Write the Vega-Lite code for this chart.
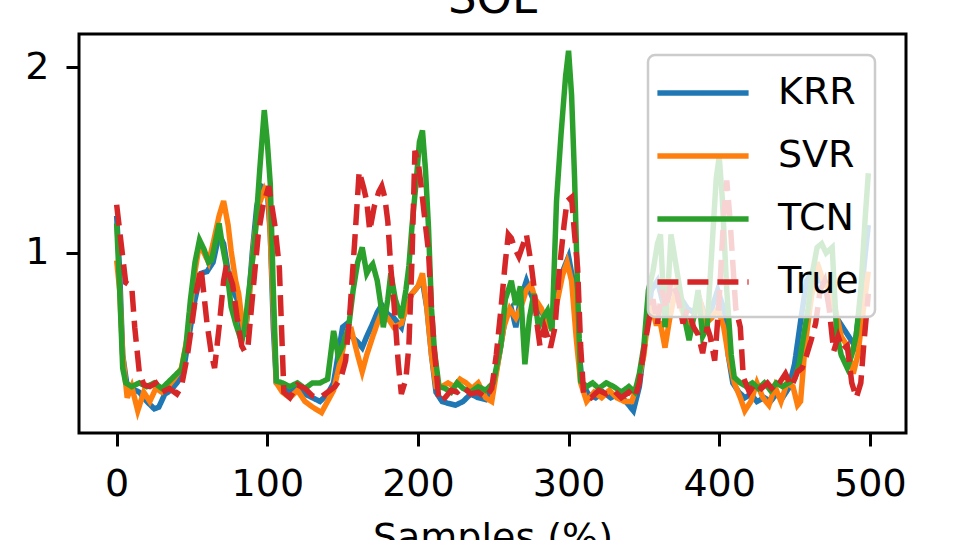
{
  "$schema": "https://vega.github.io/schema/vega-lite/v6.json",
  "width": 827,
  "height": 399,
  "autosize": {"type": "none"},
  "padding": {"left": 79, "top": 34, "right": 54, "bottom": 107},
  "background": "white",
  "title": {"text": "SOL", "fontSize": 45, "font": "DejaVu Sans", "fontWeight": "normal", "color": "black", "offset": 12},
  "config": {
    "view": {"stroke": "black", "strokeWidth": 3},
    "font": "DejaVu Sans",
    "axis": {"domain": false, "grid": false, "tickColor": "black", "tickWidth": 3, "tickSize": 13, "labelFont": "DejaVu Sans", "labelFontSize": 38, "labelColor": "black", "titleFont": "DejaVu Sans", "titleFontSize": 38, "titleFontWeight": "normal", "titleColor": "black"},
    "legend": {"orient": "none", "legendX": 569, "legendY": 21, "padding": 16, "fillColor": "rgba(255,255,255,0.8)", "strokeColor": "#cccccc", "strokeWidth": 2.5, "cornerRadius": 7, "symbolType": "M-2.4,0L2.4,0", "symbolSize": 1444, "symbolStrokeWidth": 5.5, "symbolOffset": 17, "labelFont": "DejaVu Sans", "labelFontSize": 38, "labelColor": "black", "labelOffset": 53, "rowPadding": 22, "title": null}
  },
  "data": {"values": [
    {"m":"KRR","s":0,"v":1.2},{"m":"KRR","s":2,"v":0.9},{"m":"KRR","s":4,"v":0.45},{"m":"KRR","s":7,"v":0.28},{"m":"KRR","s":10,"v":0.27},{"m":"KRR","s":15,"v":0.25},{"m":"KRR","s":20,"v":0.2},{"m":"KRR","s":25,"v":0.16},{"m":"KRR","s":28,"v":0.17},{"m":"KRR","s":32,"v":0.24},{"m":"KRR","s":36,"v":0.26},{"m":"KRR","s":40,"v":0.3},{"m":"KRR","s":44,"v":0.35},{"m":"KRR","s":48,"v":0.55},{"m":"KRR","s":52,"v":0.75},{"m":"KRR","s":56,"v":0.89},{"m":"KRR","s":60,"v":0.9},{"m":"KRR","s":64,"v":0.95},{"m":"KRR","s":68,"v":1.1},{"m":"KRR","s":71,"v":1.05},{"m":"KRR","s":74,"v":0.9},{"m":"KRR","s":77,"v":0.8},{"m":"KRR","s":80,"v":0.75},{"m":"KRR","s":83,"v":0.6},{"m":"KRR","s":85,"v":0.55},{"m":"KRR","s":87,"v":0.68},{"m":"KRR","s":90,"v":1.0},{"m":"KRR","s":93,"v":1.25},{"m":"KRR","s":96,"v":1.36},{"m":"KRR","s":100,"v":1.34},{"m":"KRR","s":102,"v":1.1},{"m":"KRR","s":104,"v":0.6},{"m":"KRR","s":106,"v":0.3},{"m":"KRR","s":110,"v":0.27},{"m":"KRR","s":115,"v":0.25},{"m":"KRR","s":120,"v":0.28},{"m":"KRR","s":125,"v":0.24},{"m":"KRR","s":130,"v":0.22},{"m":"KRR","s":135,"v":0.2},{"m":"KRR","s":140,"v":0.24},{"m":"KRR","s":144,"v":0.3},{"m":"KRR","s":147,"v":0.45},{"m":"KRR","s":150,"v":0.6},{"m":"KRR","s":153,"v":0.62},{"m":"KRR","s":156,"v":0.55},{"m":"KRR","s":160,"v":0.52},{"m":"KRR","s":163,"v":0.49},{"m":"KRR","s":166,"v":0.55},{"m":"KRR","s":170,"v":0.62},{"m":"KRR","s":173,"v":0.68},{"m":"KRR","s":176,"v":0.72},{"m":"KRR","s":180,"v":0.67},{"m":"KRR","s":184,"v":0.65},{"m":"KRR","s":189,"v":0.6},{"m":"KRR","s":192,"v":0.72},{"m":"KRR","s":196,"v":0.78},{"m":"KRR","s":200,"v":0.82},{"m":"KRR","s":203,"v":0.85},{"m":"KRR","s":206,"v":0.7},{"m":"KRR","s":209,"v":0.45},{"m":"KRR","s":212,"v":0.25},{"m":"KRR","s":216,"v":0.2},{"m":"KRR","s":220,"v":0.19},{"m":"KRR","s":225,"v":0.18},{"m":"KRR","s":230,"v":0.2},{"m":"KRR","s":235,"v":0.24},{"m":"KRR","s":240,"v":0.22},{"m":"KRR","s":245,"v":0.21},{"m":"KRR","s":250,"v":0.28},{"m":"KRR","s":254,"v":0.45},{"m":"KRR","s":258,"v":0.65},{"m":"KRR","s":262,"v":0.7},{"m":"KRR","s":265,"v":0.6},{"m":"KRR","s":268,"v":0.75},{"m":"KRR","s":272,"v":0.85},{"m":"KRR","s":275,"v":0.78},{"m":"KRR","s":278,"v":0.72},{"m":"KRR","s":282,"v":0.68},{"m":"KRR","s":285,"v":0.65},{"m":"KRR","s":288,"v":0.62},{"m":"KRR","s":292,"v":0.75},{"m":"KRR","s":296,"v":0.9},{"m":"KRR","s":300,"v":0.98},{"m":"KRR","s":303,"v":0.85},{"m":"KRR","s":306,"v":0.55},{"m":"KRR","s":309,"v":0.3},{"m":"KRR","s":313,"v":0.24},{"m":"KRR","s":318,"v":0.22},{"m":"KRR","s":323,"v":0.25},{"m":"KRR","s":328,"v":0.22},{"m":"KRR","s":333,"v":0.24},{"m":"KRR","s":338,"v":0.2},{"m":"KRR","s":343,"v":0.15},{"m":"KRR","s":347,"v":0.28},{"m":"KRR","s":351,"v":0.55},{"m":"KRR","s":355,"v":0.8},{"m":"KRR","s":359,"v":0.85},{"m":"KRR","s":363,"v":0.72},{"m":"KRR","s":367,"v":0.78},{"m":"KRR","s":371,"v":0.8},{"m":"KRR","s":375,"v":0.75},{"m":"KRR","s":379,"v":0.7},{"m":"KRR","s":383,"v":0.68},{"m":"KRR","s":387,"v":0.75},{"m":"KRR","s":391,"v":0.65},{"m":"KRR","s":395,"v":0.7},{"m":"KRR","s":399,"v":0.8},{"m":"KRR","s":403,"v":0.7},{"m":"KRR","s":406,"v":0.45},{"m":"KRR","s":409,"v":0.3},{"m":"KRR","s":413,"v":0.25},{"m":"KRR","s":417,"v":0.22},{"m":"KRR","s":421,"v":0.24},{"m":"KRR","s":425,"v":0.2},{"m":"KRR","s":430,"v":0.22},{"m":"KRR","s":434,"v":0.2},{"m":"KRR","s":438,"v":0.24},{"m":"KRR","s":442,"v":0.22},{"m":"KRR","s":446,"v":0.27},{"m":"KRR","s":450,"v":0.4},{"m":"KRR","s":454,"v":0.63},{"m":"KRR","s":458,"v":0.85},{"m":"KRR","s":462,"v":0.9},{"m":"KRR","s":466,"v":0.85},{"m":"KRR","s":470,"v":0.85},{"m":"KRR","s":474,"v":0.8},{"m":"KRR","s":478,"v":0.65},{"m":"KRR","s":482,"v":0.6},{"m":"KRR","s":486,"v":0.55},{"m":"KRR","s":490,"v":0.5},{"m":"KRR","s":494,"v":0.75},{"m":"KRR","s":497,"v":1.0},{"m":"KRR","s":499,"v":1.15},

    {"m":"SVR","s":0,"v":0.96},{"m":"SVR","s":2,"v":0.8},{"m":"SVR","s":4,"v":0.45},{"m":"SVR","s":7,"v":0.22},{"m":"SVR","s":10,"v":0.28},{"m":"SVR","s":14,"v":0.15},{"m":"SVR","s":18,"v":0.25},{"m":"SVR","s":22,"v":0.2},{"m":"SVR","s":26,"v":0.27},{"m":"SVR","s":30,"v":0.25},{"m":"SVR","s":34,"v":0.28},{"m":"SVR","s":38,"v":0.32},{"m":"SVR","s":43,"v":0.38},{"m":"SVR","s":47,"v":0.55},{"m":"SVR","s":51,"v":0.85},{"m":"SVR","s":55,"v":1.05},{"m":"SVR","s":58,"v":1.0},{"m":"SVR","s":61,"v":0.95},{"m":"SVR","s":64,"v":1.05},{"m":"SVR","s":68,"v":1.2},{"m":"SVR","s":71,"v":1.28},{"m":"SVR","s":74,"v":1.15},{"m":"SVR","s":76,"v":1.01},{"m":"SVR","s":79,"v":0.85},{"m":"SVR","s":81,"v":0.78},{"m":"SVR","s":83,"v":0.65},{"m":"SVR","s":85,"v":0.56},{"m":"SVR","s":88,"v":0.75},{"m":"SVR","s":91,"v":1.05},{"m":"SVR","s":94,"v":1.25},{"m":"SVR","s":98,"v":1.34},{"m":"SVR","s":101,"v":1.28},{"m":"SVR","s":103,"v":0.9},{"m":"SVR","s":106,"v":0.3},{"m":"SVR","s":110,"v":0.25},{"m":"SVR","s":115,"v":0.22},{"m":"SVR","s":120,"v":0.26},{"m":"SVR","s":125,"v":0.2},{"m":"SVR","s":130,"v":0.17},{"m":"SVR","s":136,"v":0.14},{"m":"SVR","s":140,"v":0.2},{"m":"SVR","s":144,"v":0.26},{"m":"SVR","s":148,"v":0.4},{"m":"SVR","s":152,"v":0.55},{"m":"SVR","s":156,"v":0.58},{"m":"SVR","s":160,"v":0.45},{"m":"SVR","s":163,"v":0.36},{"m":"SVR","s":166,"v":0.45},{"m":"SVR","s":170,"v":0.55},{"m":"SVR","s":173,"v":0.62},{"m":"SVR","s":176,"v":0.68},{"m":"SVR","s":180,"v":0.65},{"m":"SVR","s":184,"v":0.6},{"m":"SVR","s":189,"v":0.62},{"m":"SVR","s":192,"v":0.7},{"m":"SVR","s":196,"v":0.78},{"m":"SVR","s":200,"v":0.82},{"m":"SVR","s":203,"v":0.89},{"m":"SVR","s":206,"v":0.7},{"m":"SVR","s":209,"v":0.45},{"m":"SVR","s":212,"v":0.28},{"m":"SVR","s":216,"v":0.28},{"m":"SVR","s":220,"v":0.3},{"m":"SVR","s":224,"v":0.28},{"m":"SVR","s":228,"v":0.32},{"m":"SVR","s":232,"v":0.3},{"m":"SVR","s":236,"v":0.27},{"m":"SVR","s":240,"v":0.3},{"m":"SVR","s":245,"v":0.22},{"m":"SVR","s":249,"v":0.2},{"m":"SVR","s":253,"v":0.4},{"m":"SVR","s":257,"v":0.6},{"m":"SVR","s":261,"v":0.7},{"m":"SVR","s":265,"v":0.65},{"m":"SVR","s":268,"v":0.7},{"m":"SVR","s":272,"v":0.8},{"m":"SVR","s":275,"v":0.83},{"m":"SVR","s":278,"v":0.75},{"m":"SVR","s":282,"v":0.7},{"m":"SVR","s":285,"v":0.63},{"m":"SVR","s":288,"v":0.6},{"m":"SVR","s":292,"v":0.72},{"m":"SVR","s":296,"v":0.88},{"m":"SVR","s":299,"v":0.95},{"m":"SVR","s":302,"v":0.85},{"m":"SVR","s":305,"v":0.55},{"m":"SVR","s":308,"v":0.3},{"m":"SVR","s":312,"v":0.2},{"m":"SVR","s":317,"v":0.25},{"m":"SVR","s":322,"v":0.22},{"m":"SVR","s":327,"v":0.26},{"m":"SVR","s":332,"v":0.22},{"m":"SVR","s":337,"v":0.2},{"m":"SVR","s":342,"v":0.2},{"m":"SVR","s":346,"v":0.3},{"m":"SVR","s":350,"v":0.45},{"m":"SVR","s":354,"v":0.75},{"m":"SVR","s":358,"v":0.62},{"m":"SVR","s":361,"v":0.62},{"m":"SVR","s":364,"v":0.49},{"m":"SVR","s":367,"v":0.64},{"m":"SVR","s":371,"v":0.8},{"m":"SVR","s":375,"v":0.7},{"m":"SVR","s":379,"v":0.6},{"m":"SVR","s":383,"v":0.65},{"m":"SVR","s":387,"v":0.75},{"m":"SVR","s":391,"v":0.62},{"m":"SVR","s":395,"v":0.65},{"m":"SVR","s":399,"v":0.7},{"m":"SVR","s":403,"v":0.6},{"m":"SVR","s":406,"v":0.45},{"m":"SVR","s":410,"v":0.3},{"m":"SVR","s":414,"v":0.22},{"m":"SVR","s":417,"v":0.15},{"m":"SVR","s":421,"v":0.2},{"m":"SVR","s":425,"v":0.3},{"m":"SVR","s":429,"v":0.22},{"m":"SVR","s":433,"v":0.18},{"m":"SVR","s":437,"v":0.28},{"m":"SVR","s":441,"v":0.2},{"m":"SVR","s":445,"v":0.3},{"m":"SVR","s":449,"v":0.28},{"m":"SVR","s":452,"v":0.18},{"m":"SVR","s":454,"v":0.2},{"m":"SVR","s":457,"v":0.5},{"m":"SVR","s":461,"v":0.75},{"m":"SVR","s":465,"v":0.95},{"m":"SVR","s":469,"v":0.85},{"m":"SVR","s":473,"v":0.8},{"m":"SVR","s":477,"v":0.7},{"m":"SVR","s":481,"v":0.55},{"m":"SVR","s":485,"v":0.5},{"m":"SVR","s":489,"v":0.35},{"m":"SVR","s":492,"v":0.45},{"m":"SVR","s":495,"v":0.65},{"m":"SVR","s":499,"v":0.9},

    {"m":"TCN","s":0,"v":1.16},{"m":"TCN","s":2,"v":0.8},{"m":"TCN","s":4,"v":0.38},{"m":"TCN","s":6,"v":0.3},{"m":"TCN","s":10,"v":0.28},{"m":"TCN","s":15,"v":0.3},{"m":"TCN","s":20,"v":0.28},{"m":"TCN","s":25,"v":0.3},{"m":"TCN","s":30,"v":0.27},{"m":"TCN","s":35,"v":0.31},{"m":"TCN","s":40,"v":0.35},{"m":"TCN","s":43,"v":0.37},{"m":"TCN","s":46,"v":0.5},{"m":"TCN","s":49,"v":0.75},{"m":"TCN","s":52,"v":0.95},{"m":"TCN","s":55,"v":1.07},{"m":"TCN","s":58,"v":1.02},{"m":"TCN","s":61,"v":0.95},{"m":"TCN","s":63,"v":0.96},{"m":"TCN","s":66,"v":1.08},{"m":"TCN","s":68,"v":1.16},{"m":"TCN","s":70,"v":1.05},{"m":"TCN","s":73,"v":0.92},{"m":"TCN","s":76,"v":0.71},{"m":"TCN","s":79,"v":0.62},{"m":"TCN","s":83,"v":0.52},{"m":"TCN","s":85,"v":0.6},{"m":"TCN","s":87,"v":0.74},{"m":"TCN","s":90,"v":0.95},{"m":"TCN","s":92,"v":1.1},{"m":"TCN","s":95,"v":1.45},{"m":"TCN","s":98,"v":1.77},{"m":"TCN","s":100,"v":1.6},{"m":"TCN","s":102,"v":1.37},{"m":"TCN","s":104,"v":0.8},{"m":"TCN","s":106,"v":0.31},{"m":"TCN","s":110,"v":0.3},{"m":"TCN","s":115,"v":0.28},{"m":"TCN","s":120,"v":0.3},{"m":"TCN","s":125,"v":0.27},{"m":"TCN","s":130,"v":0.3},{"m":"TCN","s":135,"v":0.3},{"m":"TCN","s":140,"v":0.32},{"m":"TCN","s":144,"v":0.58},{"m":"TCN","s":147,"v":0.45},{"m":"TCN","s":150,"v":0.5},{"m":"TCN","s":154,"v":0.6},{"m":"TCN","s":157,"v":0.8},{"m":"TCN","s":160,"v":0.95},{"m":"TCN","s":163,"v":1.03},{"m":"TCN","s":166,"v":0.89},{"m":"TCN","s":168,"v":0.92},{"m":"TCN","s":170,"v":0.94},{"m":"TCN","s":173,"v":0.85},{"m":"TCN","s":175,"v":0.74},{"m":"TCN","s":177,"v":0.6},{"m":"TCN","s":180,"v":0.75},{"m":"TCN","s":182,"v":0.89},{"m":"TCN","s":185,"v":0.75},{"m":"TCN","s":189,"v":0.65},{"m":"TCN","s":192,"v":0.8},{"m":"TCN","s":194,"v":0.93},{"m":"TCN","s":196,"v":1.14},{"m":"TCN","s":199,"v":1.4},{"m":"TCN","s":201,"v":1.6},{"m":"TCN","s":203,"v":1.66},{"m":"TCN","s":205,"v":1.45},{"m":"TCN","s":207,"v":1.14},{"m":"TCN","s":209,"v":0.7},{"m":"TCN","s":211,"v":0.47},{"m":"TCN","s":214,"v":0.28},{"m":"TCN","s":218,"v":0.27},{"m":"TCN","s":222,"v":0.25},{"m":"TCN","s":226,"v":0.3},{"m":"TCN","s":230,"v":0.27},{"m":"TCN","s":235,"v":0.25},{"m":"TCN","s":240,"v":0.28},{"m":"TCN","s":245,"v":0.26},{"m":"TCN","s":250,"v":0.3},{"m":"TCN","s":255,"v":0.5},{"m":"TCN","s":258,"v":0.75},{"m":"TCN","s":262,"v":0.85},{"m":"TCN","s":265,"v":0.72},{"m":"TCN","s":268,"v":0.82},{"m":"TCN","s":271,"v":0.4},{"m":"TCN","s":274,"v":0.65},{"m":"TCN","s":277,"v":0.78},{"m":"TCN","s":280,"v":0.6},{"m":"TCN","s":283,"v":0.65},{"m":"TCN","s":286,"v":0.69},{"m":"TCN","s":289,"v":0.58},{"m":"TCN","s":292,"v":1.28},{"m":"TCN","s":295,"v":1.64},{"m":"TCN","s":298,"v":1.95},{"m":"TCN","s":300,"v":2.09},{"m":"TCN","s":302,"v":1.85},{"m":"TCN","s":304,"v":1.4},{"m":"TCN","s":306,"v":0.8},{"m":"TCN","s":308,"v":0.31},{"m":"TCN","s":312,"v":0.28},{"m":"TCN","s":316,"v":0.3},{"m":"TCN","s":320,"v":0.27},{"m":"TCN","s":325,"v":0.3},{"m":"TCN","s":330,"v":0.28},{"m":"TCN","s":335,"v":0.25},{"m":"TCN","s":340,"v":0.28},{"m":"TCN","s":344,"v":0.25},{"m":"TCN","s":347,"v":0.35},{"m":"TCN","s":350,"v":0.5},{"m":"TCN","s":353,"v":0.8},{"m":"TCN","s":356,"v":0.9},{"m":"TCN","s":359,"v":1.05},{"m":"TCN","s":361,"v":1.1},{"m":"TCN","s":364,"v":0.6},{"m":"TCN","s":366,"v":0.8},{"m":"TCN","s":368,"v":1.1},{"m":"TCN","s":371,"v":0.95},{"m":"TCN","s":374,"v":0.8},{"m":"TCN","s":377,"v":0.65},{"m":"TCN","s":380,"v":0.53},{"m":"TCN","s":383,"v":0.65},{"m":"TCN","s":386,"v":0.8},{"m":"TCN","s":389,"v":0.55},{"m":"TCN","s":392,"v":0.6},{"m":"TCN","s":395,"v":1.0},{"m":"TCN","s":398,"v":1.4},{"m":"TCN","s":400,"v":1.52},{"m":"TCN","s":402,"v":1.3},{"m":"TCN","s":405,"v":0.8},{"m":"TCN","s":408,"v":0.45},{"m":"TCN","s":410,"v":0.33},{"m":"TCN","s":414,"v":0.3},{"m":"TCN","s":418,"v":0.28},{"m":"TCN","s":422,"v":0.3},{"m":"TCN","s":426,"v":0.27},{"m":"TCN","s":430,"v":0.3},{"m":"TCN","s":434,"v":0.26},{"m":"TCN","s":438,"v":0.3},{"m":"TCN","s":442,"v":0.28},{"m":"TCN","s":446,"v":0.3},{"m":"TCN","s":450,"v":0.32},{"m":"TCN","s":453,"v":0.4},{"m":"TCN","s":456,"v":0.55},{"m":"TCN","s":459,"v":0.7},{"m":"TCN","s":462,"v":0.9},{"m":"TCN","s":465,"v":1.03},{"m":"TCN","s":468,"v":1.05},{"m":"TCN","s":471,"v":1.0},{"m":"TCN","s":475,"v":1.03},{"m":"TCN","s":478,"v":0.56},{"m":"TCN","s":481,"v":0.45},{"m":"TCN","s":485,"v":0.38},{"m":"TCN","s":488,"v":0.45},{"m":"TCN","s":491,"v":0.56},{"m":"TCN","s":494,"v":0.8},{"m":"TCN","s":497,"v":1.2},{"m":"TCN","s":499,"v":1.43},

    {"m":"True","s":0,"v":1.26},{"m":"True","s":3,"v":1.05},{"m":"True","s":6,"v":0.84},{"m":"True","s":10,"v":0.82},{"m":"True","s":12,"v":0.6},{"m":"True","s":15,"v":0.36},{"m":"True","s":18,"v":0.29},{"m":"True","s":22,"v":0.28},{"m":"True","s":26,"v":0.3},{"m":"True","s":30,"v":0.25},{"m":"True","s":35,"v":0.27},{"m":"True","s":40,"v":0.24},{"m":"True","s":43,"v":0.28},{"m":"True","s":47,"v":0.45},{"m":"True","s":50,"v":0.62},{"m":"True","s":53,"v":0.8},{"m":"True","s":56,"v":0.92},{"m":"True","s":60,"v":0.62},{"m":"True","s":63,"v":0.45},{"m":"True","s":65,"v":0.38},{"m":"True","s":68,"v":0.6},{"m":"True","s":71,"v":0.85},{"m":"True","s":73,"v":0.94},{"m":"True","s":75,"v":0.88},{"m":"True","s":77,"v":0.83},{"m":"True","s":80,"v":0.65},{"m":"True","s":83,"v":0.5},{"m":"True","s":85,"v":0.47},{"m":"True","s":87,"v":0.48},{"m":"True","s":90,"v":0.75},{"m":"True","s":94,"v":1.1},{"m":"True","s":97,"v":1.25},{"m":"True","s":101,"v":1.36},{"m":"True","s":105,"v":1.15},{"m":"True","s":108,"v":0.92},{"m":"True","s":111,"v":0.25},{"m":"True","s":115,"v":0.22},{"m":"True","s":120,"v":0.29},{"m":"True","s":125,"v":0.27},{"m":"True","s":130,"v":0.23},{"m":"True","s":135,"v":0.22},{"m":"True","s":140,"v":0.25},{"m":"True","s":145,"v":0.28},{"m":"True","s":149,"v":0.33},{"m":"True","s":152,"v":0.42},{"m":"True","s":155,"v":0.7},{"m":"True","s":158,"v":1.06},{"m":"True","s":161,"v":1.44},{"m":"True","s":164,"v":1.35},{"m":"True","s":166,"v":1.28},{"m":"True","s":168,"v":1.12},{"m":"True","s":171,"v":1.25},{"m":"True","s":174,"v":1.33},{"m":"True","s":176,"v":1.36},{"m":"True","s":178,"v":1.3},{"m":"True","s":180,"v":1.17},{"m":"True","s":182,"v":0.92},{"m":"True","s":184,"v":0.74},{"m":"True","s":187,"v":0.4},{"m":"True","s":189,"v":0.24},{"m":"True","s":192,"v":0.32},{"m":"True","s":194,"v":0.5},{"m":"True","s":196,"v":0.95},{"m":"True","s":198,"v":1.55},{"m":"True","s":200,"v":1.5},{"m":"True","s":202,"v":1.37},{"m":"True","s":205,"v":1.15},{"m":"True","s":207,"v":1.01},{"m":"True","s":209,"v":0.7},{"m":"True","s":211,"v":0.47},{"m":"True","s":214,"v":0.2},{"m":"True","s":218,"v":0.22},{"m":"True","s":222,"v":0.26},{"m":"True","s":226,"v":0.25},{"m":"True","s":230,"v":0.28},{"m":"True","s":235,"v":0.24},{"m":"True","s":240,"v":0.25},{"m":"True","s":245,"v":0.22},{"m":"True","s":249,"v":0.27},{"m":"True","s":252,"v":0.45},{"m":"True","s":255,"v":0.69},{"m":"True","s":258,"v":0.95},{"m":"True","s":260,"v":1.1},{"m":"True","s":262,"v":1.08},{"m":"True","s":264,"v":1.03},{"m":"True","s":267,"v":0.98},{"m":"True","s":270,"v":1.05},{"m":"True","s":272,"v":1.1},{"m":"True","s":275,"v":0.95},{"m":"True","s":277,"v":0.82},{"m":"True","s":279,"v":0.62},{"m":"True","s":281,"v":0.5},{"m":"True","s":284,"v":0.6},{"m":"True","s":286,"v":0.55},{"m":"True","s":288,"v":0.49},{"m":"True","s":291,"v":0.6},{"m":"True","s":294,"v":0.92},{"m":"True","s":297,"v":1.15},{"m":"True","s":299,"v":1.28},{"m":"True","s":302,"v":1.3},{"m":"True","s":304,"v":1.1},{"m":"True","s":306,"v":0.92},{"m":"True","s":308,"v":0.5},{"m":"True","s":310,"v":0.24},{"m":"True","s":315,"v":0.22},{"m":"True","s":320,"v":0.26},{"m":"True","s":325,"v":0.24},{"m":"True","s":330,"v":0.26},{"m":"True","s":335,"v":0.22},{"m":"True","s":340,"v":0.25},{"m":"True","s":344,"v":0.22},{"m":"True","s":347,"v":0.3},{"m":"True","s":350,"v":0.48},{"m":"True","s":353,"v":0.62},{"m":"True","s":356,"v":0.75},{"m":"True","s":359,"v":0.62},{"m":"True","s":362,"v":0.8},{"m":"True","s":365,"v":0.7},{"m":"True","s":368,"v":0.85},{"m":"True","s":372,"v":0.78},{"m":"True","s":376,"v":0.62},{"m":"True","s":379,"v":0.7},{"m":"True","s":383,"v":0.6},{"m":"True","s":386,"v":0.56},{"m":"True","s":389,"v":0.46},{"m":"True","s":392,"v":0.6},{"m":"True","s":394,"v":0.55},{"m":"True","s":397,"v":0.42},{"m":"True","s":400,"v":0.75},{"m":"True","s":403,"v":1.2},{"m":"True","s":405,"v":1.39},{"m":"True","s":407,"v":1.2},{"m":"True","s":409,"v":0.95},{"m":"True","s":411,"v":0.7},{"m":"True","s":414,"v":0.6},{"m":"True","s":416,"v":0.33},{"m":"True","s":420,"v":0.25},{"m":"True","s":424,"v":0.3},{"m":"True","s":428,"v":0.27},{"m":"True","s":432,"v":0.3},{"m":"True","s":436,"v":0.26},{"m":"True","s":440,"v":0.3},{"m":"True","s":444,"v":0.35},{"m":"True","s":448,"v":0.28},{"m":"True","s":452,"v":0.36},{"m":"True","s":455,"v":0.38},{"m":"True","s":458,"v":0.45},{"m":"True","s":461,"v":0.53},{"m":"True","s":464,"v":0.62},{"m":"True","s":467,"v":0.8},{"m":"True","s":470,"v":0.85},{"m":"True","s":473,"v":0.7},{"m":"True","s":476,"v":0.47},{"m":"True","s":479,"v":0.55},{"m":"True","s":482,"v":0.48},{"m":"True","s":485,"v":0.5},{"m":"True","s":488,"v":0.3},{"m":"True","s":491,"v":0.22},{"m":"True","s":494,"v":0.3},{"m":"True","s":496,"v":0.51},{"m":"True","s":499,"v":0.78}
  ]},
  "mark": {"type": "line", "strokeWidth": 5.5, "clip": true},
  "encoding": {
    "x": {"field": "s", "type": "quantitative", "scale": {"domain": [-25, 524], "nice": false, "zero": false}, "axis": {"values": [0, 100, 200, 300, 400, 500], "title": "Samples (%)", "labelPadding": 19, "titlePadding": 16}},
    "y": {"field": "v", "type": "quantitative", "scale": {"domain": [0.03, 2.18], "nice": false, "zero": false}, "axis": {"values": [1, 2], "title": null, "labelPadding": 17}},
    "color": {"field": "m", "type": "nominal", "scale": {"domain": ["KRR", "SVR", "TCN", "True"], "range": ["#1f77b4", "#ff7f0e", "#2ca02c", "#d62728"]}, "legend": {"title": null}},
    "strokeDash": {"field": "m", "type": "nominal", "scale": {"domain": ["KRR", "SVR", "TCN", "True"], "range": [[1, 0], [1, 0], [1, 0], [21, 9]]}, "legend": {"title": null}},
    "order": {"field": "s", "type": "quantitative"}
  }
}
